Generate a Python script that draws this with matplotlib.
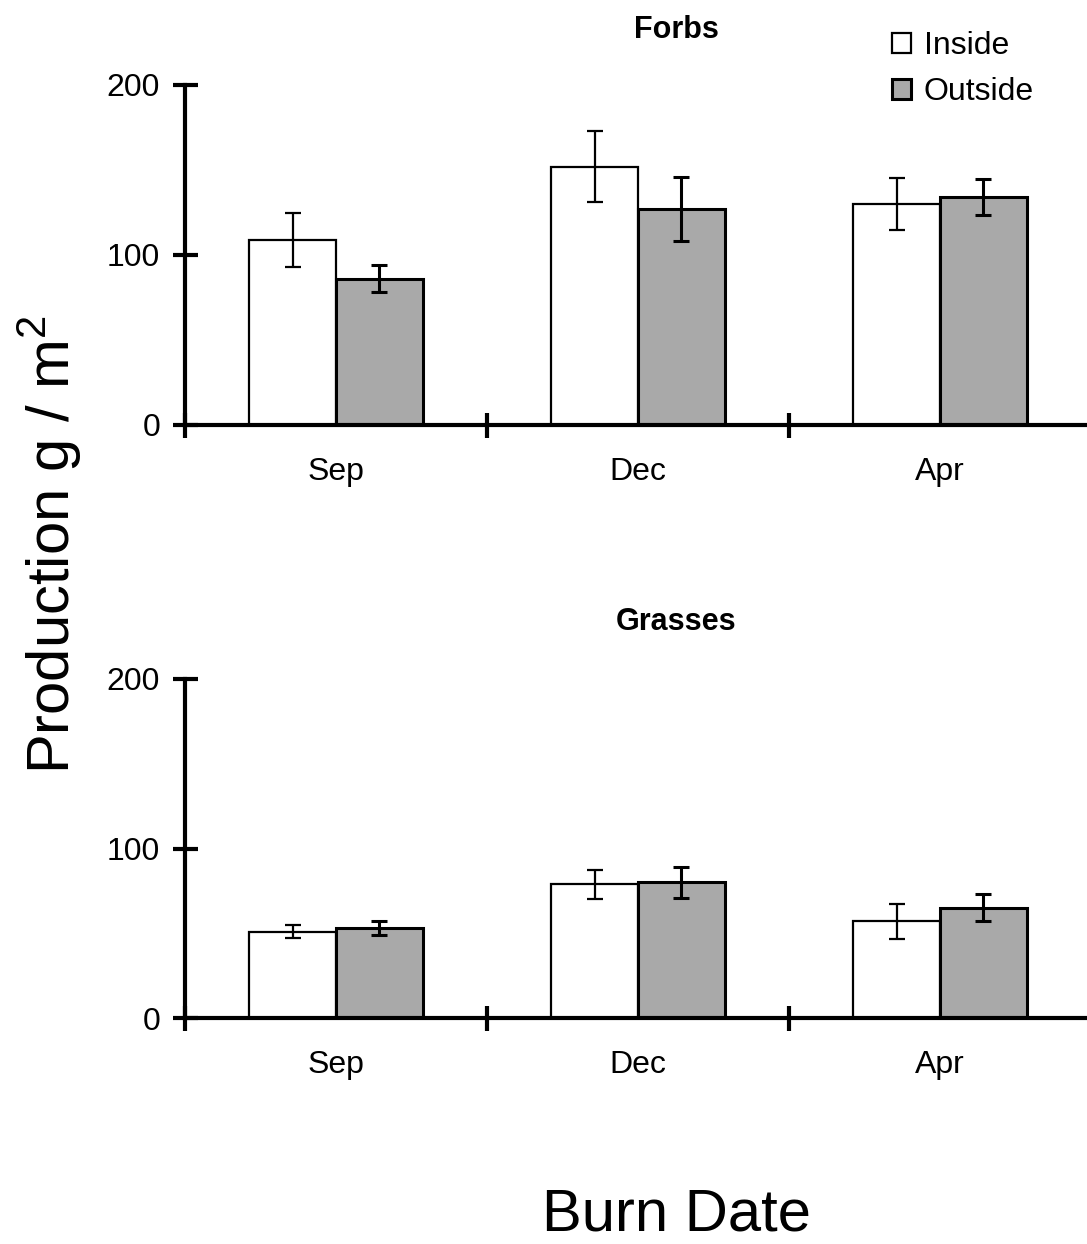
import matplotlib
matplotlib.use("Agg")
import matplotlib.pyplot as plt
import numpy as np
from matplotlib.patches import Patch

plt.rcParams['font.family'] = ['Liberation Sans', 'DejaVu Sans']

categories = ['Sep', 'Dec', 'Apr']
forbs_inside = [109, 152, 130]
forbs_inside_err = [16, 21, 15.5]
forbs_outside = [86, 127, 134]
forbs_outside_err = [8, 19, 10.5]
grass_inside = [51, 79, 57]
grass_inside_err = [4, 8.5, 10.5]
grass_outside = [53, 80, 65]
grass_outside_err = [4, 9, 8]
titles = ['Forbs', 'Grasses']

W, H = 1087, 1244
fig = plt.figure(figsize=(W / 100, H / 100), dpi=100)

gray = '#a9a9a9'
bw = 0.288
x = np.arange(len(categories))


def make_axes(bottom_px0, top_px200):
    left = 185 / W
    width = 3 * 302 / W
    bottom = 1 - bottom_px0 / H
    height = (bottom_px0 - top_px200) / H
    return fig.add_axes([left, bottom, width, height])


panels = [
    (make_axes(425, 85), forbs_inside, forbs_inside_err, forbs_outside, forbs_outside_err),
    (make_axes(1018, 679), grass_inside, grass_inside_err, grass_outside, grass_outside_err),
]

for ax, vin, ein, vout, eout in panels:
    ax.bar(x - bw / 2, vin, width=bw, color='white', edgecolor='black', linewidth=1.6, zorder=2)
    ax.bar(x + bw / 2, vout, width=bw, color=gray, edgecolor='black', linewidth=2.2, zorder=2)
    ax.errorbar(x - bw / 2, vin, yerr=ein, fmt='none', ecolor='black', elinewidth=1.6,
                capsize=6, capthick=1.6, zorder=3)
    ax.errorbar(x + bw / 2, vout, yerr=eout, fmt='none', ecolor='black', elinewidth=2.2,
                capsize=6, capthick=2.2, zorder=3)
    ax.set_xlim(-0.5, 2.5)
    ax.set_ylim(0, 200)
    for s in ['top', 'right']:
        ax.spines[s].set_visible(False)
    for s in ['left', 'bottom']:
        ax.spines[s].set_linewidth(3)
        ax.spines[s].set_zorder(4)
    ax.set_yticks([0, 100, 200])
    ax.set_xticks([-0.5, 0.5, 1.5, 2.5])
    ax.set_xticklabels([])
    ax.set_xticks(x, minor=True)
    ax.set_xticklabels(categories, minor=True)
    ax.tick_params(axis='x', which='major', direction='inout', length=18, width=3)
    ax.tick_params(axis='x', which='minor', length=0, pad=23, labelsize=23)
    ax.tick_params(axis='y', which='major', direction='inout', length=18, width=3,
                   labelsize=23, pad=9)
    ax.patch.set_alpha(0)

fig.text(676 / W, 1 - 30 / H, titles[0], ha='center', va='center', fontsize=22, fontweight='bold')
fig.text(676 / W, 1 - 622 / H, titles[1], ha='center', va='center', fontsize=22, fontweight='bold')

fig.text(50 / W, 1 - 545 / H, 'Production g / m$^\\mathregular{2}$', rotation=90,
         ha='center', va='center', fontsize=43)
fig.text(676 / W, 1 - 1215 / H, 'Burn Date', ha='center', va='center', fontsize=43)

handles = [Patch(facecolor='white', edgecolor='black', linewidth=1.6, label='Inside'),
           Patch(facecolor=gray, edgecolor='black', linewidth=2.2, label='Outside')]
fig.legend(handles=handles, loc='upper left', bbox_to_anchor=(892 / W, 1 - 31 / H),
           frameon=False, fontsize=23, handlelength=0.6, handleheight=0.6,
           handletextpad=0.4, labelspacing=0.5, borderpad=0, borderaxespad=0)

fig.savefig('out.png', dpi=100)
